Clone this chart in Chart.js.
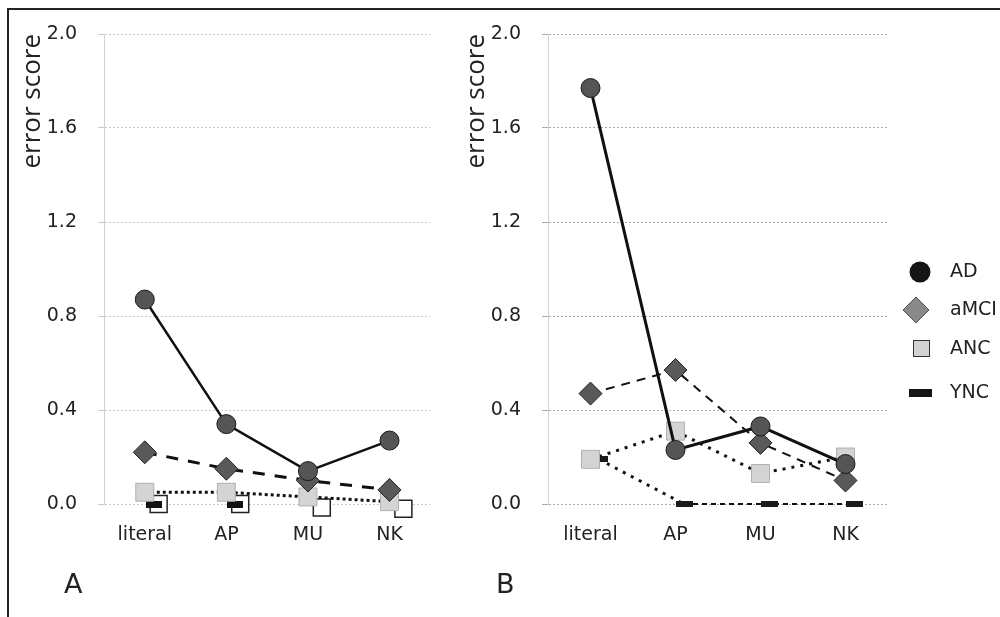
<!DOCTYPE html>
<html>
<head>
<meta charset="utf-8">
<script src="https://cdn.jsdelivr.net/npm/chart.js@4.4.0/dist/chart.umd.min.js"></script>
<style>
  body { margin: 0; background: #fff; width: 1000px; height: 617px; position: relative; overflow: hidden; }
  .frame { position: absolute; left: 7px; top: 8px; right: -4px; bottom: -4px; border-top: 2px solid #222; border-left: 2px solid #222; }
  canvas { position: absolute; top: 0; }
  #chartA { left: 0; }
  #chartB { left: 444px; }
  .panel { position: absolute; top: 568px; font: 27px "DejaVu Sans"; line-height: 32px; color: #222; }
</style>
</head>
<body>
<div class="frame"></div>
<canvas id="chartA" width="444" height="617"></canvas>
<canvas id="chartB" width="556" height="617"></canvas>
<div class="panel" style="left:64px">A</div>
<div class="panel" style="left:496px">B</div>
<script>
// tasks on the x axis, groups in the legend
const categories = ["literal", "AP", "MU", "NK"];
const groups = ["AD", "aMCI", "ANC", "YNC"];
const yTicks = [0, 0.4, 0.8, 1.2, 1.6, 2.0];

// panel A
const adA = [0.87, 0.34, 0.14, 0.27];
const amciA = [0.22, 0.15, 0.10, 0.06];
const ancA = [0.05, 0.05, 0.03, 0.01];
const yncA = [0, 0, null, null];
const openA = [0, 0, -0.015, -0.02]; // unlabelled white squares in A

// panel B
const adB = [1.77, 0.23, 0.33, 0.17];
const amciB = [0.47, 0.57, 0.26, 0.10];
const ancB = [0.19, 0.31, 0.13, 0.20];
const yncB = [0.19, 0, 0, 0];

const tickFont = { family: "DejaVu Sans", size: 19 };
const textColor = "#222";

// small filled bar used as the YNC marker
function dash(w, h, color) {
  const c = document.createElement("canvas");
  c.width = w;
  c.height = h;
  const g = c.getContext("2d");
  g.fillStyle = color;
  g.fillRect(0, 0, w, h);
  return c;
}

const pts = (vals, shift) =>
  vals.map((v, i) => ({ x: i + (shift || 0), y: v })).filter((p) => p.y !== null);

function marker(style, radius, fill, border, bw) {
  return {
    pointStyle: style,
    pointRadius: radius,
    pointHoverRadius: radius,
    pointBackgroundColor: fill,
    pointBorderColor: border,
    pointBorderWidth: bw,
  };
}

function makeScales(gridColor) {
  return {
    x: {
      type: "linear",
      min: -0.5,
      max: 3.5,
      afterBuildTicks: (s) => {
        s.ticks = categories.map((c, i) => ({ value: i }));
      },
      afterFit: (s) => {
        s.height = 113;
      },
      grid: { display: false, drawTicks: false },
      border: { display: false },
      ticks: {
        callback: (v) => categories[v],
        font: tickFont,
        color: textColor,
        padding: 20,
        maxRotation: 0,
        autoSkip: false,
      },
    },
    y: {
      min: 0,
      max: 2,
      afterBuildTicks: (s) => {
        s.ticks = yTicks.map((v) => ({ value: v }));
      },
      afterFit: (s) => {
        s.width = 104;
      },
      grid: { color: gridColor, lineWidth: 1, tickLength: 6 },
      border: { display: true, color: "#d2d2d2", dash: [2, 2] },
      ticks: {
        callback: (v) => v.toFixed(1),
        font: tickFont,
        color: textColor,
        padding: 21,
      },
      title: {
        display: true,
        text: "error score",
        align: "end",
        color: textColor,
        font: { family: "Open Sans", size: 26 },
        padding: { top: 17, bottom: 0 },
      },
    },
  };
}

// legend drawn at the right of panel B
const sideLegend = {
  id: "sideLegend",
  afterDraw(chart) {
    const ctx = chart.ctx;
    const mx = 476;
    const tx = 506;
    const ys = [272, 310, 349, 393];
    ctx.save();
    // AD
    ctx.fillStyle = "#151515";
    ctx.beginPath();
    ctx.arc(mx, ys[0], 10.5, 0, Math.PI * 2);
    ctx.fill();
    // aMCI
    ctx.fillStyle = "#8a8a8a";
    ctx.strokeStyle = "#555";
    ctx.lineWidth = 1;
    ctx.beginPath();
    ctx.moveTo(mx - 4, ys[1] - 13);
    ctx.lineTo(mx + 9, ys[1]);
    ctx.lineTo(mx - 4, ys[1] + 13);
    ctx.lineTo(mx - 17, ys[1]);
    ctx.closePath();
    ctx.fill();
    ctx.stroke();
    // ANC
    ctx.fillStyle = "#d2d2d2";
    ctx.strokeStyle = "#333";
    ctx.fillRect(mx - 7, ys[2] - 9, 17, 17);
    ctx.strokeRect(mx - 6.5, ys[2] - 8.5, 16, 16);
    // YNC
    ctx.fillStyle = "#151515";
    ctx.fillRect(mx - 11, ys[3] - 4, 23, 8);
    ctx.fillStyle = textColor;
    ctx.font = '19px "DejaVu Sans"';
    ctx.textBaseline = "middle";
    groups.forEach((g, i) => ctx.fillText(g, tx, ys[i]));
    ctx.restore();
  },
};

new Chart(document.getElementById("chartA"), {
  type: "line",
  data: {
    datasets: [
      {
        label: groups[0],
        data: pts(adA),
        borderColor: "#111",
        borderWidth: 2.5,
        ...marker("circle", 9.5, "#555", "#1a1a1a", 1),
      },
      {
        label: groups[1],
        data: pts(amciA),
        borderColor: "#111",
        borderWidth: 3,
        borderDash: [12, 10],
        ...marker("rectRot", 11.5, "#595959", "#222", 1),
      },
      {
        label: groups[2],
        data: pts(ancA),
        borderColor: "#111",
        borderWidth: 3,
        borderDash: [3, 3],
        ...marker("rect", 12.7, "#d4d4d4", "#b0b0b0", 1),
      },
      {
        label: groups[3],
        data: pts(yncA, 0.11),
        showLine: false,
        ...marker(dash(16, 7, "#111"), 8, "#111", "#111", 0),
      },
      {
        label: "",
        data: pts(openA, 0.17),
        showLine: false,
        ...marker("rect", 12, "#fff", "#222", 1.5),
      },
    ],
  },
  options: {
    responsive: false,
    animation: false,
    events: [],
    datasets: { line: { clip: false, tension: 0 } },
    layout: { padding: { top: 34, right: 4, bottom: 0, left: 0 } },
    plugins: { legend: { display: false }, tooltip: { enabled: false } },
    scales: makeScales("#c9c9c9"),
  },
});

new Chart(document.getElementById("chartB"), {
  type: "line",
  data: {
    datasets: [
      {
        label: groups[0],
        data: pts(adB),
        borderColor: "#111",
        borderWidth: 3,
        ...marker("circle", 9.5, "#555", "#1a1a1a", 1),
      },
      {
        label: groups[1],
        data: pts(amciB),
        borderColor: "#111",
        borderWidth: 2,
        borderDash: [9, 7],
        ...marker("rectRot", 11.5, "#595959", "#222", 1),
      },
      {
        label: groups[2],
        data: pts(ancB),
        borderColor: "#111",
        borderWidth: 3,
        borderDash: [3, 6],
        ...marker("rect", 12.7, "#d4d4d4", "#b0b0b0", 1),
      },
      {
        label: groups[3],
        data: pts(yncB, 0.1),
        borderColor: "#111",
        borderWidth: 2,
        segment: {
          borderDash: (c) => (c.p0DataIndex === 0 ? [3, 6] : [5, 4]),
          borderWidth: (c) => (c.p0DataIndex === 0 ? 3 : 2),
        },
        ...marker(dash(17, 6, "#1a1a1a"), 8, "#111", "#111", 0),
      },
    ],
  },
  options: {
    responsive: false,
    animation: false,
    events: [],
    datasets: { line: { clip: false, tension: 0 } },
    layout: { padding: { top: 34, right: 112, bottom: 0, left: 0 } },
    plugins: { legend: { display: false }, tooltip: { enabled: false } },
    scales: makeScales("#a9a9a9"),
  },
  plugins: [sideLegend],
});
</script>
</body>
</html>
